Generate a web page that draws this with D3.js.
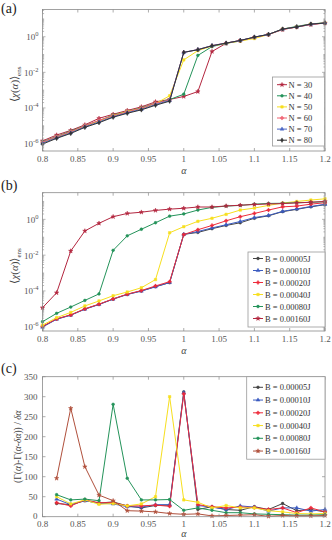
<!DOCTYPE html>
<html><head><meta charset="utf-8">
<script src="https://cdn.jsdelivr.net/npm/d3@7"></script>
<style>body{margin:0;background:#fff}svg{display:block}text{font-family:"Liberation Serif","Times New Roman",serif}</style>
</head><body><svg id="chart" width="332" height="540"></svg>
<script>
// ---------- data ----------
const alphaAB = [0.8,0.82,0.84,0.86,0.88,0.9,0.92,0.94,0.96,0.98,1.0,1.02,1.04,1.06,1.08,1.1,1.12,1.14,1.16,1.18,1.2];
const alphaC  = [0.82,0.84,0.86,0.88,0.9,0.92,0.94,0.96,0.98,1.0,1.02,1.04,1.06,1.08,1.1,1.12,1.14,1.16,1.18,1.2];
const xTicks = [0.8,0.85,0.9,0.95,1,1.05,1.1,1.15,1.2];
const xTickLabels = ["0.8","0.85","0.9","0.95","1","1.05","1.1","1.15","1.2"];
const logTickExps = [-6,-4,-2,0];
const cTicks = [0,50,100,150,200,250,300,350];

const namesA = ["N = 30","N = 40","N = 50","N = 60","N = 70","N = 80"];
const a_N30 = [1.41e-6,3.0e-6,5.5e-6,1.12e-5,2.6e-5,4.4e-5,7.2e-5,1.15e-4,2.2e-4,3.0e-4,4.4e-4,8.3e-4,0.148,0.427,0.617,0.912,1.35,2.51,3.55,4.79,5.89];
const a_N40 = [1.26e-6,2.5e-6,5.0e-6,1.02e-5,1.9e-5,4.0e-5,6.3e-5,1.02e-4,1.86e-4,2.95e-4,5.9e-4,0.089,0.28,0.427,0.575,0.933,1.35,2.69,3.8,5.25,6.03];
const a_N50 = [1.12e-6,2.3e-6,4.4e-6,9.5e-6,1.8e-5,3.7e-5,6.3e-5,9.3e-5,1.74e-4,4.8e-4,0.05,0.166,0.30,0.427,0.575,0.794,1.32,2.69,3.55,5.25,5.89];
const a_N60 = [1.2e-6,2.4e-6,4.6e-6,1.0e-5,2.0e-5,3.6e-5,6.0e-5,9.5e-5,1.82e-4,2.8e-4,0.132,0.19,0.316,0.447,0.603,0.933,1.32,2.63,3.47,5.01,5.89];
const a_N70 = [1.05e-6,2.1e-6,4.0e-6,8.7e-6,1.62e-5,3.2e-5,5.4e-5,8.3e-5,1.55e-4,2.6e-4,0.132,0.19,0.316,0.437,0.617,0.955,1.35,2.69,3.55,5.13,5.89];
const a_N80 = [9.3e-7,1.95e-6,3.7e-6,8.1e-6,1.48e-5,3.0e-5,5.0e-5,7.8e-5,1.41e-4,2.4e-4,0.132,0.186,0.309,0.437,0.617,0.955,1.35,2.69,3.55,5.13,5.89];

const namesB = ["B = 0.00005J","B = 0.00010J","B = 0.00020J","B = 0.00040J","B = 0.00080J","B = 0.00160J"];
const b_B005 = [1.0e-6,2.7e-6,4.5e-6,9.8e-6,1.78e-5,3.5e-5,6.5e-5,1.0e-4,1.74e-4,2.9e-4,0.145,0.186,0.30,0.457,0.646,1.15,1.58,2.69,3.63,5.01,6.61];
const b_B010 = [9.5e-7,2.6e-6,4.4e-6,9.5e-6,1.74e-5,3.5e-5,6.3e-5,9.8e-5,1.7e-4,2.95e-4,0.145,0.209,0.331,0.50,0.76,1.26,1.66,2.82,3.8,5.25,6.92];
const b_B020 = [1.05e-6,2.75e-6,4.6e-6,1.0e-5,1.82e-5,3.6e-5,6.6e-5,1.05e-4,1.9e-4,3.3e-4,0.141,0.263,0.457,0.832,1.41,2.14,3.31,5.01,5.5,7.08,8.51];
const b_B040 = [1.23e-6,3.2e-6,6.3e-6,1.45e-5,2.75e-5,5.4e-5,8.7e-5,1.51e-4,4.3e-4,0.178,0.389,0.776,1.15,1.91,3.31,4.27,6.03,8.13,10.0,12.0,14.1];
const b_B080 = [1.9e-6,5.6e-6,1.26e-5,2.95e-5,6.8e-5,0.0186,0.12,0.28,0.646,1.51,2.0,3.31,4.68,5.5,6.03,7.08,7.76,7.94,8.51,8.91,9.77];
const b_B160 = [1.15e-5,7.9e-5,0.017,0.224,0.603,1.41,2.14,2.51,3.16,3.72,4.17,4.9,4.9,5.62,6.17,6.76,7.24,7.59,8.32,9.12,10.0];

const c_B005 = [33,30,40,34,37,27,22,28,29,312,18,25,18,16,25,18,33,15,18,12];
const c_B010 = [44,30,40,34,32,25,24,30,30,310,28,24,18,27,24,14,22,22,14,18];
const c_B020 = [35,27,42,35,35,27,27,29,26,307,30,25,22,24,23,18,22,10,22,12];
const c_B040 = [50,32,42,31,33,27,32,50,300,42,36,22,28,22,22,15,12,8,7,8];
const c_B080 = [55,42,44,40,281,96,42,42,43,16,22,16,10,10,7,6,5,4,4,5];
const c_B160 = [96,271,125,54,40,15,14,12,8,6,7,2,3,4,5,1,3,2,2,3];

// ---------- styles ----------
const colA = ["#b3263f","#24935a","#f7df1e","#f06070","#4a66c4","#333333"];
const symA = [d3.symbolStar,d3.symbolCircle,d3.symbolSquare,d3.symbolCross,d3.symbolTriangle,d3.symbolDiamond];
const colB = ["#444444","#3b5bc0","#ee2b3b","#f7df1e","#24935a","#b3263f"];
const colC = ["#444444","#3b5bc0","#ee2b3b","#f7df1e","#24935a","#b0503c"];
const symB = [d3.symbolCircle,d3.symbolTriangle,d3.symbolCross,d3.symbolSquare,d3.symbolCircle,d3.symbolStar];
const MS = 6;

const svg = d3.select("#chart");
const X0 = 42.5, X1 = 325;
const axisCol = "#8a8a8a", txtCol = "#555";

function xScale(dom){ return d3.scaleLinear().domain(dom).range([X0,X1]); }

function drawXAxis(g, x, top, bot, labDy, alphaDy){
  g.append("rect").attr("x",X0).attr("y",top).attr("width",X1-X0).attr("height",bot-top)
    .attr("fill","none").attr("stroke",axisCol).attr("stroke-width",0.8);
  xTicks.forEach((t,i)=>{
    const px = x(t);
    g.append("line").attr("x1",px).attr("x2",px).attr("y1",bot).attr("y2",bot-3).attr("stroke",axisCol).attr("stroke-width",0.7);
    g.append("line").attr("x1",px).attr("x2",px).attr("y1",top).attr("y2",top+3).attr("stroke",axisCol).attr("stroke-width",0.7);
    g.append("text").attr("x",px).attr("y",bot+labDy).attr("text-anchor","middle")
      .attr("font-size",9).attr("fill",txtCol).text(xTickLabels[i]);
  });
  g.append("text").attr("x",(X0+X1)/2).attr("y",bot+alphaDy).attr("text-anchor","middle")
    .attr("font-size",10).attr("font-style","italic").attr("fill","#444").text("α");
}

function drawLogY(g, y){
  const [lo,hi] = y.domain();
  for(let k=Math.floor(Math.log10(lo)); k<=Math.ceil(Math.log10(hi)); k++){
    for(let m=1;m<=9;m++){
      const v = m*Math.pow(10,k);
      if(v<lo||v>hi) continue;
      const py = y(v);
      const major = (m===1 && k%2===0);
      const len = major?3:1.6;
      g.append("line").attr("x1",X0).attr("x2",X0+len).attr("y1",py).attr("y2",py).attr("stroke",axisCol).attr("stroke-width",0.6);
      g.append("line").attr("x1",X1).attr("x2",X1-len).attr("y1",py).attr("y2",py).attr("stroke",axisCol).attr("stroke-width",0.6);
    }
  }
  logTickExps.forEach(e=>{
    const t = g.append("text").attr("x",X0-4).attr("y",y(Math.pow(10,e))+3.5).attr("text-anchor","end")
      .attr("font-size",9).attr("fill",txtCol);
    t.append("tspan").text("10");
    t.append("tspan").attr("dy",-4).attr("font-size",6.5).text(String(e));
  });
}

function yLabelEns(g, cy){
  const t = g.append("text").attr("transform",`translate(18,${cy}) rotate(-90)`).attr("text-anchor","middle")
    .attr("font-size",11).attr("fill","#444");
  t.append("tspan").text("⟨");
  t.append("tspan").attr("font-style","italic").text("χ");
  t.append("tspan").text("(");
  t.append("tspan").attr("font-style","italic").text("α");
  t.append("tspan").text(")⟩");
  t.append("tspan").attr("dy",3).attr("font-size",7).text("ens");
}

function drawSeries(g, x, y, xs, ys, col, sym){
  const line = d3.line().x((d,i)=>x(xs[i])).y(d=>y(d));
  g.append("path").datum(ys).attr("d",line).attr("fill","none").attr("stroke",col).attr("stroke-width",1);
  g.selectAll(null).data(ys).enter().append("path")
    .attr("transform",(d,i)=>`translate(${x(xs[i])},${y(d)})`)
    .attr("d",d3.symbol().type(sym).size(MS)).attr("fill",col).attr("stroke",col).attr("stroke-width",0.5);
}

function drawLegend(g, bx, by, bw, bh, rows, names, cols, syms, lx1, lx2, tx){
  g.append("rect").attr("x",bx).attr("y",by).attr("width",bw).attr("height",bh)
    .attr("fill","#fff").attr("stroke","#9a9a9a").attr("stroke-width",0.8);
  names.forEach((n,i)=>{
    const ry = rows[0] + i*rows[1];
    g.append("line").attr("x1",lx1).attr("x2",lx2).attr("y1",ry).attr("y2",ry).attr("stroke",cols[i]).attr("stroke-width",1);
    g.append("path").attr("transform",`translate(${(lx1+lx2)/2},${ry})`)
      .attr("d",d3.symbol().type(syms[i]).size(MS)).attr("fill",cols[i]).attr("stroke",cols[i]).attr("stroke-width",0.5);
    g.append("text").attr("x",tx).attr("y",ry+3).attr("font-size",8.5).attr("fill","#333").text(n);
  });
}

function panelLabel(txt, y){
  svg.append("text").attr("x",1).attr("y",y).attr("font-size",14).attr("fill","#222").text(txt);
}

// ---------- panel (a) ----------
{
  const top=9.5, bot=151;
  const g = svg.append("g");
  const x = xScale([0.8,1.2]);
  const y = d3.scaleLog().domain([Math.pow(10,-6.42),Math.pow(10,1.53)]).range([bot,top]);
  [a_N30,a_N40,a_N50,a_N60,a_N70,a_N80].forEach((s,i)=>drawSeries(g,x,y,alphaAB,s,colA[i],symA[i]));
  drawXAxis(g,x,top,bot,11,23);
  drawLogY(g,y);
  yLabelEns(g,(top+bot)/2+4);
  drawLegend(g,272.5,77,52,69,[84.7,11.1],namesA,colA,symA,277,287,288.5);
  panelLabel("(a)",13);
}
// ---------- panel (b) ----------
{
  const top=192.7, bot=331;
  const g = svg.append("g");
  const x = xScale([0.8,1.2]);
  const y = d3.scaleLog().domain([Math.pow(10,-6.24),Math.pow(10,1.49)]).range([bot,top]);
  [b_B005,b_B010,b_B020,b_B040,b_B080,b_B160].forEach((s,i)=>drawSeries(g,x,y,alphaAB,s,colB[i],symB[i]));
  drawXAxis(g,x,top,bot,11,23);
  drawLogY(g,y);
  yLabelEns(g,(top+bot)/2+4);
  drawLegend(g,248,252,77,75,[258.5,12],namesB,colB,symB,253,263,265);
  panelLabel("(b)",190);
}
// ---------- panel (c) ----------
{
  const top=376.7, bot=516.7;
  const g = svg.append("g");
  const x = xScale([0.8,1.2]);
  const y = d3.scaleLinear().domain([0,350]).range([bot,top]);
  [c_B005,c_B010,c_B020,c_B040,c_B080,c_B160].forEach((s,i)=>drawSeries(g,x,y,alphaC,s,colC[i],symB[i]));
  drawXAxis(g,x,top,bot,10.5,20);
  cTicks.forEach(t=>{
    const py = y(t);
    g.append("line").attr("x1",X0).attr("x2",X0+3).attr("y1",py).attr("y2",py).attr("stroke",axisCol).attr("stroke-width",0.7);
    g.append("line").attr("x1",X1).attr("x2",X1-3).attr("y1",py).attr("y2",py).attr("stroke",axisCol).attr("stroke-width",0.7);
    g.append("text").attr("x",X0-5).attr("y",py+(t===0?2:3)).attr("text-anchor","end")
      .attr("font-size",9).attr("fill",txtCol).text(t);
  });
  const t = g.append("text").attr("transform",`translate(21,${(top+bot)/2}) rotate(-90)`).attr("text-anchor","middle")
    .attr("font-size",9.5).attr("fill","#444");
  t.append("tspan").text("(Γ(");
  t.append("tspan").attr("font-style","italic").text("α");
  t.append("tspan").text(")-Γ(");
  t.append("tspan").attr("font-style","italic").text("α");
  t.append("tspan").text("-");
  t.append("tspan").attr("font-style","italic").text("δα");
  t.append("tspan").text(")) / ");
  t.append("tspan").attr("font-style","italic").text("δα");
  drawLegend(g,246.7,376.7,78.3,82.5,[387.3,12.75],namesB,colC,symB,253,263,265);
  panelLabel("(c)",373);
}
</script></body></html>
